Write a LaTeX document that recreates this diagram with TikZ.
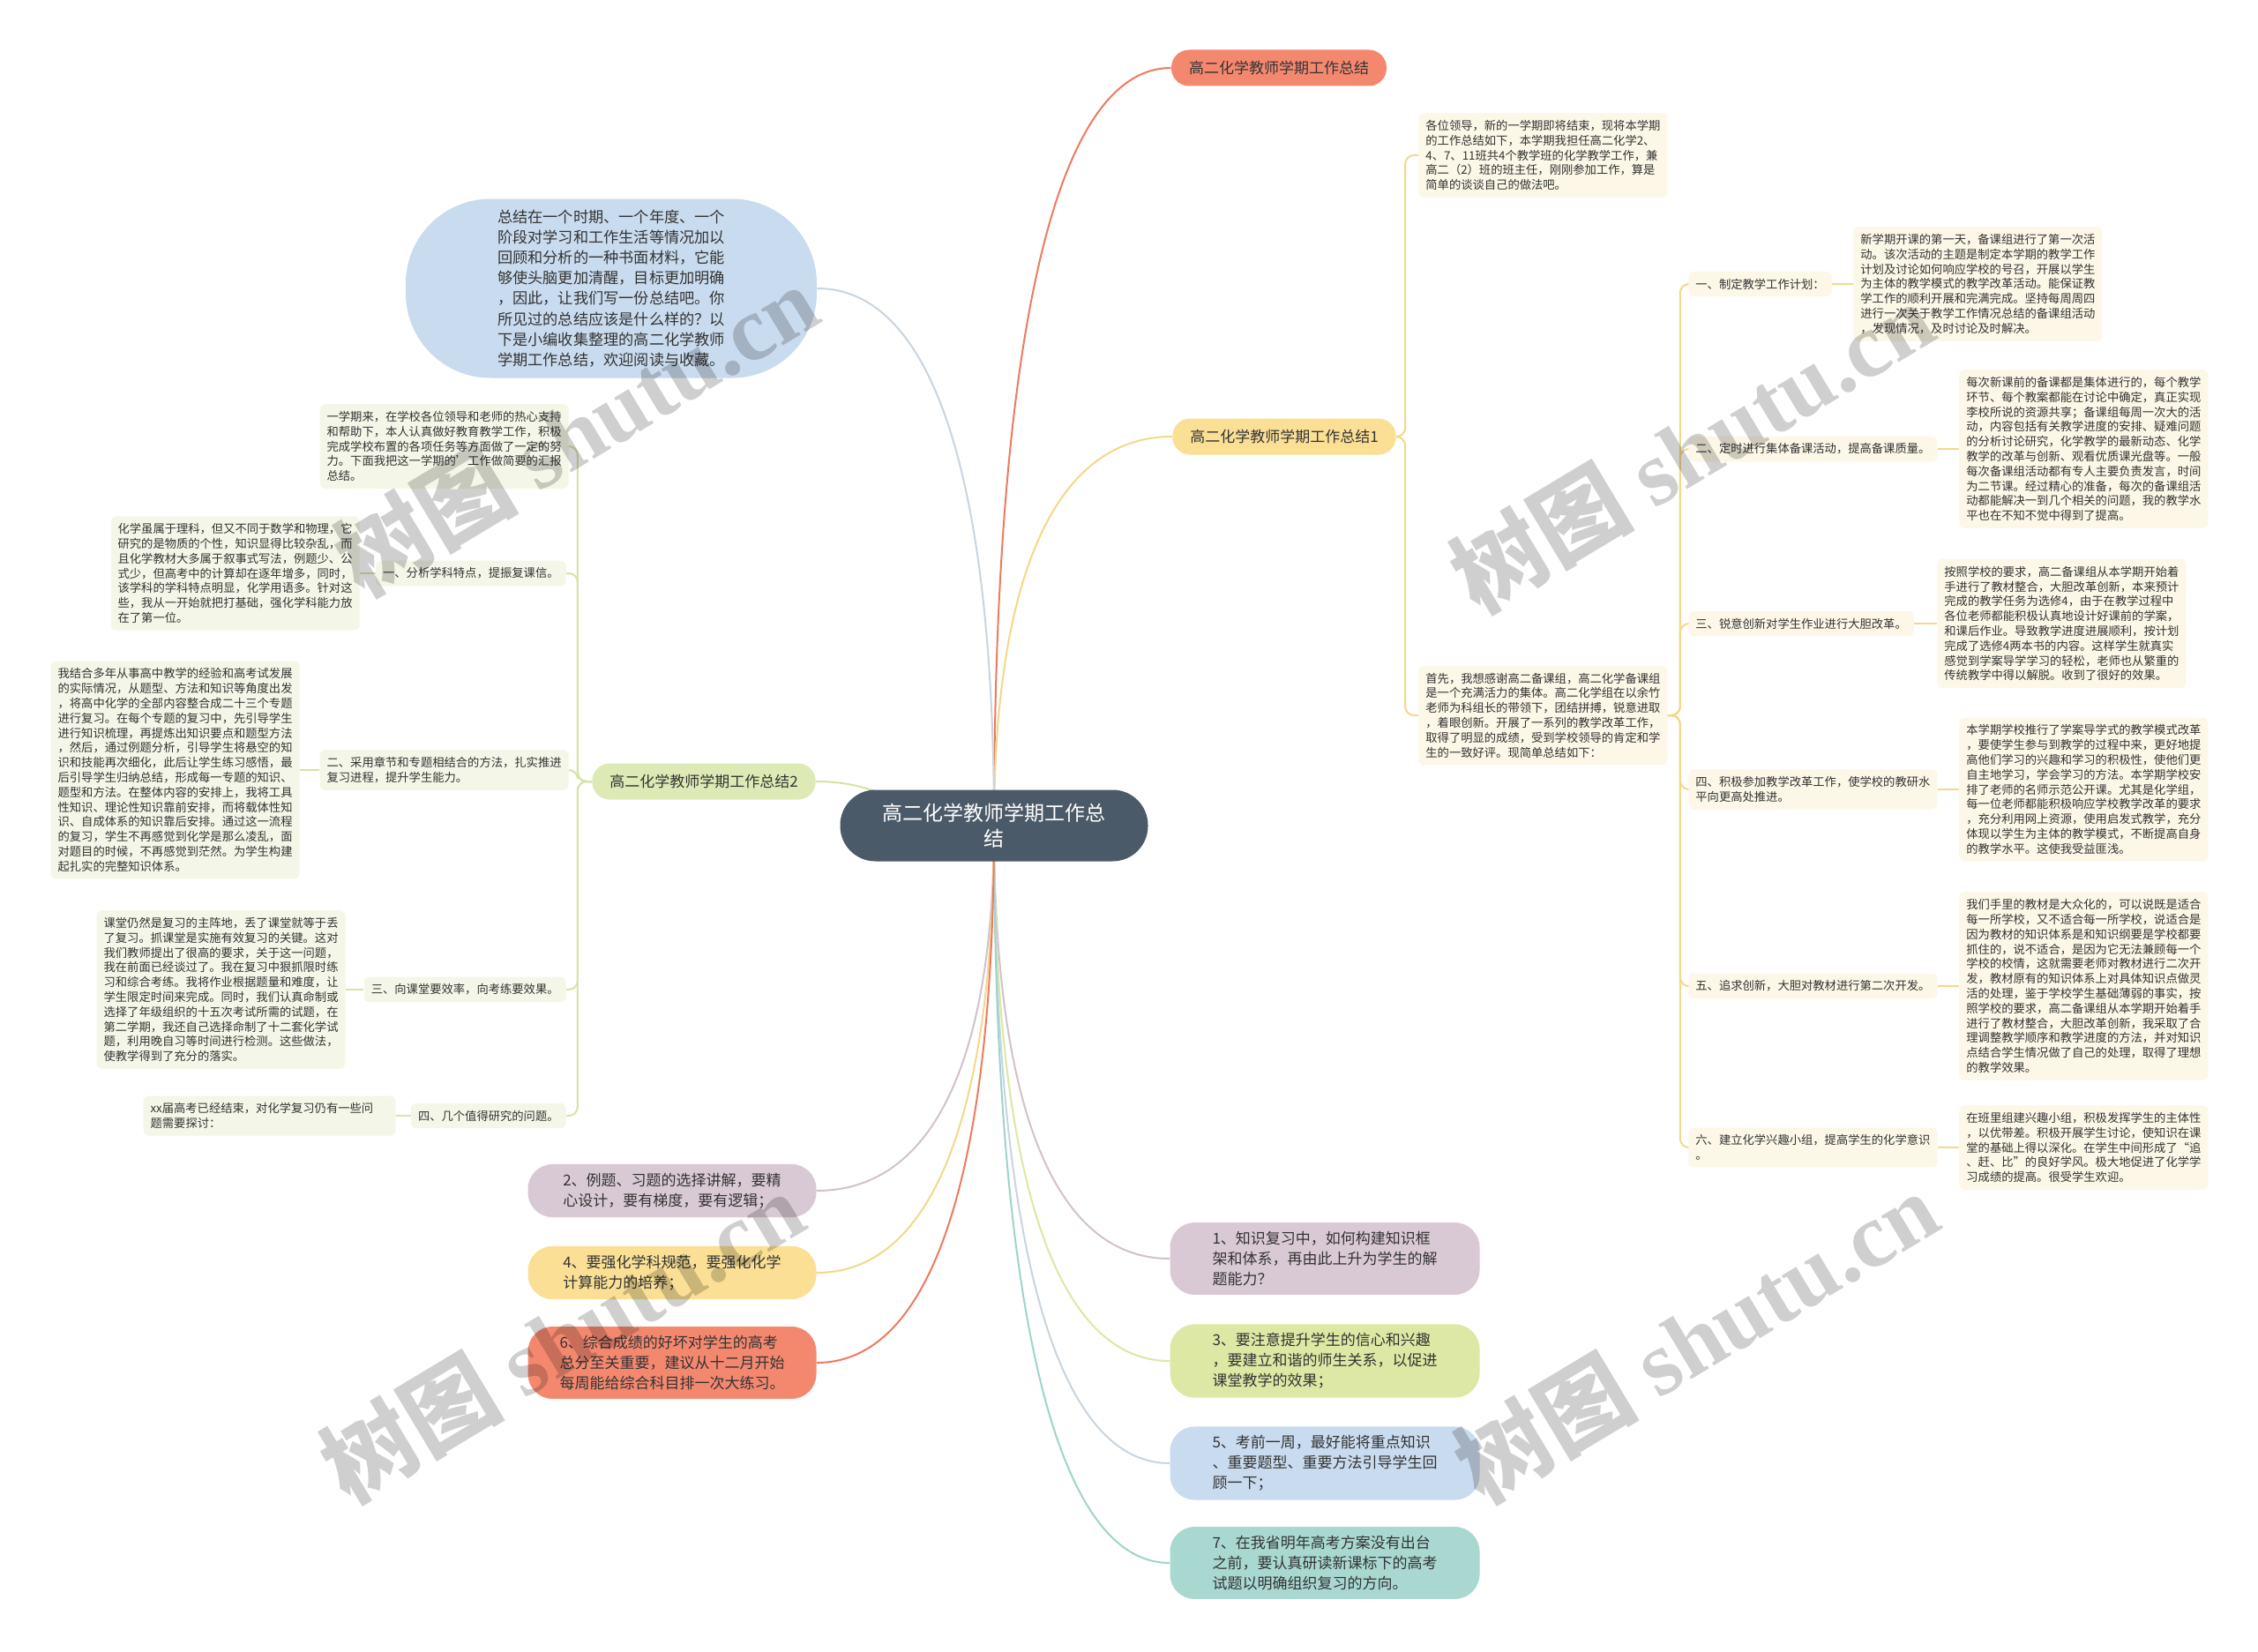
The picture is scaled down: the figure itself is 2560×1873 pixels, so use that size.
\documentclass[tikz,border=0pt]{standalone}
\usepackage{fontspec}
\setmainfont{Noto Sans CJK SC}
\newfontfamily\wmfont{Liberation Serif}
\usetikzlibrary{backgrounds}

\definecolor{inkgray}{HTML}{333333}
\definecolor{slate}{HTML}{4B5A68}
\definecolor{coral}{HTML}{F4886F}
\definecolor{coralline}{HTML}{EC7B60}
\definecolor{sand}{HTML}{FADF95}
\definecolor{sandline}{HTML}{F4D888}
\definecolor{leaf}{HTML}{DEEAB6}
\definecolor{leafline}{HTML}{D6E4A6}
\definecolor{creamR}{HTML}{FCF7E6}
\definecolor{creamL}{HTML}{F4F7E7}
\definecolor{sky}{HTML}{C9DBEE}
\definecolor{skyline}{HTML}{C8D5E0}
\definecolor{mauve}{HTML}{D9C9D4}
\definecolor{mauveline}{HTML}{D2C1CD}
\definecolor{pear}{HTML}{DCE8A4}
\definecolor{mint}{HTML}{A8D8D0}
\definecolor{mintline}{HTML}{9FD4CB}

\tikzset{
  topic/.style={fill=#1, text=inkgray, rounded corners=10pt, minimum height=20.5pt,
    inner xsep=10pt, font=\fontsize{8.5pt}{10pt}\selectfont},
  memo/.style={fill=#1, text=inkgray, rounded corners=3pt, align=left,
    inner xsep=4pt, inner ysep=4pt, font=\fontsize{6.65pt}{8.4pt}\selectfont},
  bubble/.style={fill=#1, text=inkgray, rounded corners=14pt, align=left,
    inner ysep=5pt, font=\fontsize{8.5pt}{11.5pt}\selectfont},
  link/.style={draw=#1, line width=1pt},
  wmark/.style={rotate=31, text=black, text opacity=0.19, font=\fontsize{52pt}{52pt}\selectfont\bfseries}
}

\begin{document}
\begin{tikzpicture}[x=0.5pt, y=-0.5pt]
\useasboundingbox (0,0) rectangle (2560,1873);

% centre and main topics
\node[fill=slate, text=white, rounded corners=20pt, minimum width=174.5pt, minimum height=40.5pt,
  align=center, font=\fontsize{11.5pt}{14.5pt}\selectfont] (root) at (1127,936) {高二化学教师学期工作总\\结};

\node[topic=coral] (sum0) at (1450,77) {高二化学教师学期工作总结};
\node[topic=sand] (sum1) at (1456,495) {高二化学教师学期工作总结1};
\node[topic=leaf] (sum2) at (798,886) {高二化学教师学期工作总结2};

% right subtree
\node[memo=creamR, anchor=west] (intro1) at (1608,176) {各位领导，新的一学期即将结束，现将本学期\\的工作总结如下，本学期我担任高二化学2、\\4、7、11班共4个教学班的化学教学工作，兼\\高二（2）班的班主任，刚刚参加工作，算是\\简单的谈谈自己的做法吧。};
\node[memo=creamR, anchor=west] (intro2) at (1608,811) {首先，我想感谢高二备课组，高二化学备课组\\是一个充满活力的集体。高二化学组在以余竹\\老师为科组长的带领下，团结拼搏，锐意进取\\，着眼创新。开展了一系列的教学改革工作，\\取得了明显的成绩，受到学校领导的肯定和学\\生的一致好评。现简单总结如下：};

\node[memo=creamR, anchor=west] (r1) at (1914,322) {一、制定教学工作计划：};
\node[memo=creamR, anchor=west] (r2) at (1914,509) {二、定时进行集体备课活动，提高备课质量。};
\node[memo=creamR, anchor=west] (r3) at (1914,707) {三、锐意创新对学生作业进行大胆改革。};
\node[memo=creamR, anchor=west] (r4) at (1914,895) {四、积极参加教学改革工作，使学校的教研水\\平向更高处推进。};
\node[memo=creamR, anchor=west] (r5) at (1914,1118) {五、追求创新，大胆对教材进行第二次开发。};
\node[memo=creamR, anchor=west] (r6) at (1914,1301) {六、建立化学兴趣小组，提高学生的化学意识\\。};

\node[memo=creamR, anchor=west] (d1) at (2101,322) {新学期开课的第一天，备课组进行了第一次活\\动。该次活动的主题是制定本学期的教学工作\\计划及讨论如何响应学校的号召，开展以学生\\为主体的教学模式的教学改革活动。能保证教\\学工作的顺利开展和完满完成。坚持每周周四\\进行一次关于教学工作情况总结的备课组活动\\，发现情况，及时讨论及时解决。};
\node[memo=creamR, anchor=west] (d2) at (2221,509) {每次新课前的备课都是集体进行的，每个教学\\环节、每个教案都能在讨论中确定，真正实现\\李校所说的资源共享；备课组每周一次大的活\\动，内容包括有关教学进度的安排、疑难问题\\的分析讨论研究，化学教学的最新动态、化学\\教学的改革与创新、观看优质课光盘等。一般\\每次备课组活动都有专人主要负责发言，时间\\为二节课。经过精心的准备，每次的备课组活\\动都能解决一到几个相关的问题，我的教学水\\平也在不知不觉中得到了提高。};
\node[memo=creamR, anchor=west] (d3) at (2196,707) {按照学校的要求，高二备课组从本学期开始着\\手进行了教材整合，大胆改革创新，本来预计\\完成的教学任务为选修4，由于在教学过程中\\各位老师都能积极认真地设计好课前的学案，\\和课后作业。导致教学进度进展顺利，按计划\\完成了选修4两本书的内容。这样学生就真实\\感觉到学案导学学习的轻松，老师也从繁重的\\传统教学中得以解脱。收到了很好的效果。};
\node[memo=creamR, anchor=west] (d4) at (2221,895) {本学期学校推行了学案导学式的教学模式改革\\，要使学生参与到教学的过程中来，更好地提\\高他们学习的兴趣和学习的积极性，使他们更\\自主地学习，学会学习的方法。本学期学校安\\排了老师的名师示范公开课。尤其是化学组，\\每一位老师都能积极响应学校教学改革的要求\\，充分利用网上资源，使用启发式教学，充分\\体现以学生为主体的教学模式，不断提高自身\\的教学水平。这使我受益匪浅。};
\node[memo=creamR, anchor=west] (d5) at (2221,1118) {我们手里的教材是大众化的，可以说既是适合\\每一所学校，又不适合每一所学校，说适合是\\因为教材的知识体系是和知识纲要是学校都要\\抓住的，说不适合，是因为它无法兼顾每一个\\学校的校情，这就需要老师对教材进行二次开\\发，教材原有的知识体系上对具体知识点做灵\\活的处理，鉴于学校学生基础薄弱的事实，按\\照学校的要求，高二备课组从本学期开始着手\\进行了教材整合，大胆改革创新，我采取了合\\理调整教学顺序和教学进度的方法，并对知识\\点结合学生情况做了自己的处理，取得了理想\\的教学效果。};
\node[memo=creamR, anchor=west] (d6) at (2221,1301) {在班里组建兴趣小组，积极发挥学生的主体性\\，以优带差。积极开展学生讨论，使知识在课\\堂的基础上得以深化。在学生中间形成了“追\\、赶、比”的良好学风。极大地促进了化学学\\习成绩的提高。很受学生欢迎。};

% left subtree
\node[memo=creamL, anchor=east] (intro3) at (645,506) {一学期来，在学校各位领导和老师的热心支持\\和帮助下，本人认真做好教育教学工作，积极\\完成学校布置的各项任务等方面做了一定的努\\力。下面我把这一学期的'工作做简要的汇报\\总结。};

\node[memo=creamL, anchor=east] (l1) at (642,650) {一、分析学科特点，提振复课信。};
\node[memo=creamL, anchor=east] (l2) at (645,873) {二、采用章节和专题相结合的方法，扎实推进\\复习进程，提升学生能力。};
\node[memo=creamL, anchor=east] (l3) at (642,1122) {三、向课堂要效率，向考练要效果。};
\node[memo=creamL, anchor=east] (l4) at (642,1265) {四、几个值得研究的问题。};

\node[memo=creamL, anchor=east] (e1) at (408,650) {化学虽属于理科，但又不同于数学和物理，它\\研究的是物质的个性，知识显得比较杂乱，而\\且化学教材大多属于叙事式写法，例题少、公\\式少，但高考中的计算却在逐年增多，同时，\\该学科的学科特点明显，化学用语多。针对这\\些，我从一开始就把打基础，强化学科能力放\\在了第一位。};
\node[memo=creamL, anchor=east] (e2) at (340,873) {我结合多年从事高中教学的经验和高考试发展\\的实际情况，从题型、方法和知识等角度出发\\，将高中化学的全部内容整合成二十三个专题\\进行复习。在每个专题的复习中，先引导学生\\进行知识梳理，再提炼出知识要点和题型方法\\，然后，通过例题分析，引导学生将悬空的知\\识和技能再次细化，此后让学生练习感悟，最\\后引导学生归纳总结，形成每一专题的知识、\\题型和方法。在整体内容的安排上，我将工具\\性知识、理论性知识靠前安排，而将载体性知\\识、自成体系的知识靠后安排。通过这一流程\\的复习，学生不再感觉到化学是那么凌乱，面\\对题目的时候，不再感觉到茫然。为学生构建\\起扎实的完整知识体系。};
\node[memo=creamL, anchor=east] (e3) at (392,1122) {课堂仍然是复习的主阵地，丢了课堂就等于丢\\了复习。抓课堂是实施有效复习的关键。这对\\我们教师提出了很高的要求，关于这一问题，\\我在前面已经谈过了。我在复习中狠抓限时练\\习和综合考练。我将作业根据题量和难度，让\\学生限定时间来完成。同时，我们认真命制或\\选择了年级组织的十五次考试所需的试题，在\\第二学期，我还自己选择命制了十二套化学试\\题，利用晚自习等时间进行检测。这些做法，\\使教学得到了充分的落实。};
\node[memo=creamL, anchor=east, text width=135pt] (e4) at (449,1265) {xx届高考已经结束，对化学复习仍有一些问\\题需要探讨：};

% bubbles
\node[bubble=sky, rounded corners=48pt, minimum width=233pt, minimum height=101.5pt,
  font=\fontsize{8.6pt}{11.6pt}\selectfont] (note) at (693,327) {总结在一个时期、一个年度、一个\\阶段对学习和工作生活等情况加以\\回顾和分析的一种书面材料，它能\\够使头脑更加清醒，目标更加明确\\，因此，让我们写一份总结吧。你\\所见过的总结应该是什么样的？以\\下是小编收集整理的高二化学教师\\学期工作总结，欢迎阅读与收藏。};

\node[bubble=mauve, minimum width=163.5pt] (q2) at (762,1350) {2、例题、习题的选择讲解，要精\\心设计，要有梯度，要有逻辑；};
\node[bubble=sand, minimum width=163.5pt] (q4) at (762,1443) {4、要强化学科规范，要强化化学\\计算能力的培养；};
\node[bubble=coral, minimum width=163.5pt] (q6) at (762,1545) {6、综合成绩的好坏对学生的高考\\总分至关重要，建议从十二月开始\\每周能给综合科目排一次大练习。};

\node[bubble=mauve, minimum width=175.5pt] (q1) at (1502,1427) {1、知识复习中，如何构建知识框\\架和体系，再由此上升为学生的解\\题能力？};
\node[bubble=pear, minimum width=175.5pt] (q3) at (1502,1543) {3、要注意提升学生的信心和兴趣\\，要建立和谐的师生关系，以促进\\课堂教学的效果；};
\node[bubble=sky, minimum width=175.5pt] (q5) at (1502,1659) {5、考前一周，最好能将重点知识\\、重要题型、重要方法引导学生回\\顾一下；};
\node[bubble=mint, minimum width=175.5pt] (q7) at (1502,1772) {7、在我省明年高考方案没有出台\\之前，要认真研读新课标下的高考\\试题以明确组织复习的方向。};

% connectors
\begin{scope}[on background layer]
\fill[white] (0,0) rectangle (2560,1873);
\draw[link=coralline] (root.center) .. controls +(0,-515) and +(-140,0) .. (sum0.west);
\draw[link=sandline] (root.center) .. controls +(0,-265) and +(-140,0) .. (sum1.west);
\draw[link=mauveline] (root.center) .. controls +(0,295) and +(-140,0) .. (q1.west);
\draw[link=pear] (root.center) .. controls +(0,364) and +(-140,0) .. (q3.west);
\draw[link=skyline] (root.center) .. controls +(0,434) and +(-140,0) .. (q5.west);
\draw[link=mintline] (root.center) .. controls +(0,502) and +(-140,0) .. (q7.west);
\draw[link=skyline] (root.center) .. controls +(0,-365) and +(140,0) .. (note.east);
\draw[link=leafline] (root.center) .. controls +(-90,0) and +(90,0) .. (sum2.east);
\draw[link=mauveline] (root.center) .. controls +(0,248) and +(140,0) .. (q2.east);
\draw[link=sandline] (root.center) .. controls +(0,304) and +(140,0) .. (q4.east);
\draw[link=coralline] (root.center) .. controls +(0,365) and +(140,0) .. (q6.east);

\draw[link=sandline, rounded corners=5pt] (sum1.east) -- ++(10,0) |- (intro1.west);
\draw[link=sandline, rounded corners=5pt] (sum1.east) -- ++(10,0) |- (intro2.west);
\foreach \k in {1,...,6}{
  \draw[link=sandline, rounded corners=5pt] (intro2.east) -- ++(14,0) |- (r\k.west);
  \draw[link=sandline] (r\k) -- (d\k);
}

\draw[link=leafline, rounded corners=5pt] (sum2.west) -- ++(-16,0) |- (intro3.east);
\foreach \k in {1,...,4}{
  \draw[link=leafline, rounded corners=5pt] (sum2.west) -- ++(-16,0) |- (l\k.east);
  \draw[link=leafline] (l\k) -- (e\k);
}
\end{scope}

% watermarks
\foreach \wx/\wy in {653/487, 1918/506, 637/1515, 1923/1515}
  \node[wmark] (wm-\wx-\wy) at (\wx,\wy) {树图 {\wmfont\bfseries shutu.cn}};
\end{tikzpicture}
\end{document}
